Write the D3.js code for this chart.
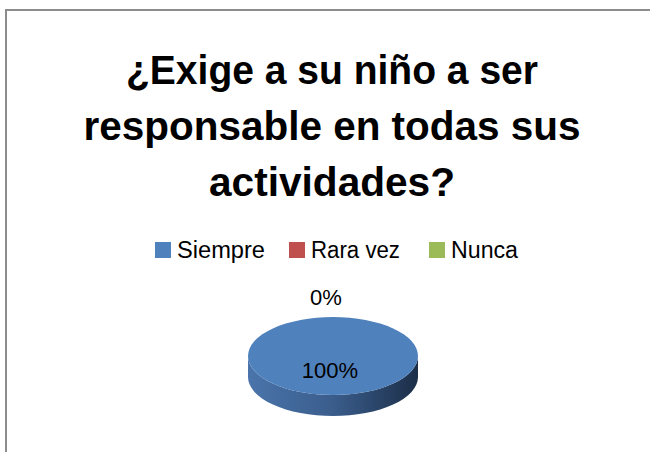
<!DOCTYPE html>
<html>
<head>
<meta charset="utf-8">
<script src="https://cdn.jsdelivr.net/npm/d3@7"></script>
<style>
  html, body { margin: 0; padding: 0; background: #fff; overflow: hidden; }
  svg { display: block; }
  text { font-family: "Liberation Sans", Arial, sans-serif; }
</style>
</head>
<body>
<svg id="chart" width="650" height="452"></svg>
<script>
// data
const titleLines = ["¿Exige a su niño a ser", "responsable en todas sus", "actividades?"];
const categories = ["Siempre", "Rara vez", "Nunca"];
const values = [100, 0, 0];
const colors = ["#4f81bd", "#c0504d", "#9bbb59"];

const svg = d3.select("#chart");

// frame: only top and left edges are inside the picture
svg.append("path")
  .attr("d", "M6,452 L6,10 L650,10")
  .attr("fill", "none")
  .attr("stroke", "#8c8c8c")
  .attr("stroke-width", 2);

// title
const titleY = [70, 126, 182];
const titleW = [412, 497, 246];
svg.append("g").selectAll("text")
  .data(titleLines)
  .enter().append("text")
  .attr("x", 332)
  .attr("y", (d, i) => titleY[i] + 14)
  .attr("text-anchor", "middle")
  .attr("font-size", 40)
  .attr("font-weight", "bold")
  .attr("textLength", (d, i) => titleW[i])
  .attr("lengthAdjust", "spacingAndGlyphs")
  .attr("fill", "#000")
  .text(d => d);

// legend
const legendX = [155, 289, 429];
const legendW = [88, 89, 67];
const legend = svg.append("g").selectAll("g")
  .data(categories)
  .enter().append("g")
  .attr("transform", (d, i) => "translate(" + legendX[i] + ",250)");
legend.append("rect")
  .attr("x", 0).attr("y", -8)
  .attr("width", 16).attr("height", 16)
  .attr("fill", (d, i) => colors[i]);
legend.append("text")
  .attr("x", 22).attr("y", 8)
  .attr("font-size", 23)
  .attr("textLength", (d, i) => legendW[i])
  .attr("lengthAdjust", "spacingAndGlyphs")
  .attr("fill", "#000")
  .text(d => d);

// pie (3d look)
const cx = 333, cy = 356, rx = 85, ry = 39, depth = 21;
const pieData = d3.pie().sort(null)(values);
const total = d3.sum(values);

const defs = svg.append("defs");
const grad = defs.append("linearGradient").attr("id", "side")
  .attr("x1", "0%").attr("x2", "100%").attr("y1", "0%").attr("y2", "0%");
grad.append("stop").attr("offset", "0%").attr("stop-color", "#4a74ab");
grad.append("stop").attr("offset", "50%").attr("stop-color", "#3a5d8c");
grad.append("stop").attr("offset", "100%").attr("stop-color", "#1c2e48");

const pieG = svg.append("g");
pieData.forEach((d, i) => {
  if (d.data <= 0) return;
  // side wall
  pieG.append("path")
    .attr("d", "M" + (cx - rx) + "," + cy +
      " A" + rx + "," + ry + " 0 0 0 " + (cx + rx) + "," + cy +
      " L" + (cx + rx) + "," + (cy + depth) +
      " A" + rx + "," + ry + " 0 0 1 " + (cx - rx) + "," + (cy + depth) + " Z")
    .attr("fill", "url(#side)");
  // top face via d3.arc, squashed into an ellipse
  pieG.append("path")
    .attr("transform", "translate(" + cx + "," + cy + ") scale(1," + (ry / rx) + ")")
    .attr("d", d3.arc().innerRadius(0).outerRadius(rx)(d))
    .attr("fill", colors[i]);
});

// labels
const fmt = v => Math.round(v / total * 100) + "%";
svg.append("text")
  .attr("x", 330).attr("y", 378)
  .attr("text-anchor", "middle")
  .attr("font-size", 22)
  .text(fmt(values[0]));
svg.append("text")
  .attr("x", 326).attr("y", 305)
  .attr("text-anchor", "middle")
  .attr("font-size", 22)
  .text(fmt(values[1]));
</script>
</body>
</html>
